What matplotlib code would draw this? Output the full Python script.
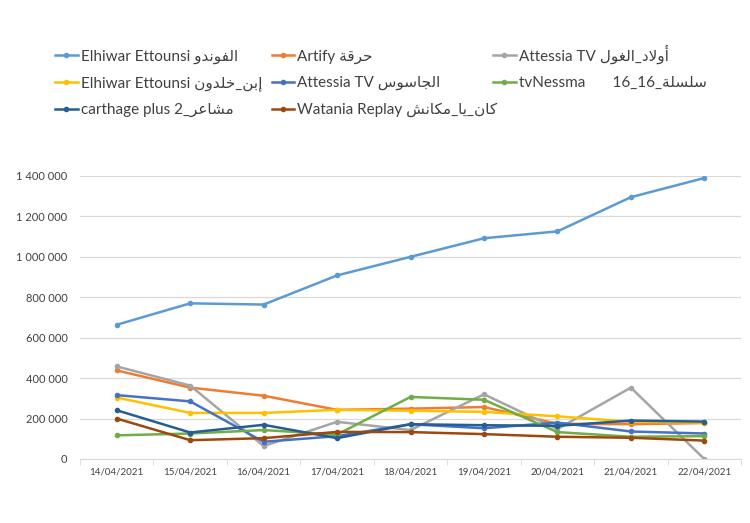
import re
import numpy as np
import matplotlib
matplotlib.use("Agg")
import matplotlib.pyplot as plt
from matplotlib.ticker import FuncFormatter

plt.rcParams['font.family'] = ['Lato', 'DejaVu Sans']

dates = ["14/04/2021", "15/04/2021", "16/04/2021", "17/04/2021", "18/04/2021",
         "19/04/2021", "20/04/2021", "21/04/2021", "22/04/2021"]

# (latin part, arabic part)
names = [
    ("Elhiwar Ettounsi ", "الفوندو"),
    ("Artify ", "حرقة"),
    ("Attessia TV ", "أولاد_الغول"),
    ("Elhiwar Ettounsi ", "إبن_خلدون"),
    ("Attessia TV ", "الجاسوس"),
    ("tvNessma       ", "سلسلة_16_16"),
    ("carthage plus ", "مشاعر_2"),
    ("Watania Replay ", "كان_يا_مكانش"),
]

fondou = [664000, 770000, 764000, 908000, 1000000, 1092000, 1126000, 1295000, 1390000]
harga = [438000, 353000, 313000, 243000, 249000, 257000, 174000, 172000, 178000]
ouled_ghoul = [458000, 363000, 64000, 184000, 143000, 320000, 148000, 353000, 0]
ibn_khaldoun = [304000, 228000, 228000, 243000, 239000, 233000, 211000, 184000, 180000]
jasous = [316000, 285000, 85000, 113000, 172000, 152000, 180000, 136000, 126000]
silsila = [117000, 126000, 143000, 121000, 307000, 293000, 133000, 110000, 113000]
machaer = [241000, 131000, 169000, 103000, 172000, 167000, 164000, 190000, 185000]
kan_ya = [200000, 93000, 103000, 134000, 133000, 123000, 110000, 105000, 91000]

series = [fondou, harga, ouled_ghoul, ibn_khaldoun, jasous, silsila, machaer, kan_ya]
colors = ["#5B9BD5", "#ED7D31", "#A5A5A5", "#FFC000", "#4472C4", "#70AD47", "#255E91", "#9E480E"]

# presentation forms: isolated, final, initial, medial
FORMS = {
    'ا': ('\ufe8d', '\ufe8e', None, None),
    'أ': ('\ufe83', '\ufe84', None, None),
    'إ': ('\ufe87', '\ufe88', None, None),
    'ب': ('\ufe8f', '\ufe90', '\ufe91', '\ufe92'),
    'ة': ('\ufe93', '\ufe94', None, None),
    'ج': ('\ufe9d', '\ufe9e', '\ufe9f', '\ufea0'),
    'ح': ('\ufea1', '\ufea2', '\ufea3', '\ufea4'),
    'خ': ('\ufea5', '\ufea6', '\ufea7', '\ufea8'),
    'د': ('\ufea9', '\ufeaa', None, None),
    'ر': ('\ufead', '\ufeae', None, None),
    'س': ('\ufeb1', '\ufeb2', '\ufeb3', '\ufeb4'),
    'ش': ('\ufeb5', '\ufeb6', '\ufeb7', '\ufeb8'),
    'ع': ('\ufec9', '\ufeca', '\ufecb', '\ufecc'),
    'غ': ('\ufecd', '\ufece', '\ufecf', '\ufed0'),
    'ف': ('\ufed1', '\ufed2', '\ufed3', '\ufed4'),
    'ق': ('\ufed5', '\ufed6', '\ufed7', '\ufed8'),
    'ك': ('\ufed9', '\ufeda', '\ufedb', '\ufedc'),
    'ل': ('\ufedd', '\ufede', '\ufedf', '\ufee0'),
    'م': ('\ufee1', '\ufee2', '\ufee3', '\ufee4'),
    'ن': ('\ufee5', '\ufee6', '\ufee7', '\ufee8'),
    'و': ('\ufeed', '\ufeee', None, None),
    'ي': ('\ufef1', '\ufef2', '\ufef3', '\ufef4'),
}
LAM_ALEF = {'ا': ('\ufefb', '\ufefc'), 'أ': ('\ufef7', '\ufef8'), 'إ': ('\ufef9', '\ufefa')}


def rtl(text):
    """ shape arabic letters and put them in visual order """
    out = []
    n = len(text)
    i = 0
    while i < n:
        c = text[i]
        prev = text[i - 1] if i > 0 else None
        prev_joins = prev in FORMS and FORMS[prev][2] is not None
        if c == 'ل' and i + 1 < n and text[i + 1] in LAM_ALEF:
            iso, fin = LAM_ALEF[text[i + 1]]
            out.append(fin if prev_joins else iso)
            i += 2
            continue
        if c not in FORMS:
            out.append(c)
            i += 1
            continue
        iso, fin, ini, med = FORMS[c]
        nxt = text[i + 1] if i + 1 < n else None
        next_joins = nxt in FORMS and ini is not None
        if prev_joins and next_joins:
            out.append(med)
        elif prev_joins:
            out.append(fin)
        elif next_joins:
            out.append(ini)
        else:
            out.append(iso)
        i += 1
    s = ''.join(reversed(out))
    return re.sub(r'\d+', lambda m: m.group()[::-1], s)


labels = [lat + rtl(ar) for lat, ar in names]

fig = plt.figure(figsize=(7.5, 5.23), dpi=100)
ax = fig.add_axes([0.1067, 0.1224, 0.8813, 0.5411])

x = np.arange(len(dates))
handles = []
for vals, col, lab in zip(series, colors, labels):
    h, = ax.plot(x, vals, color=col, lw=1.8, marker='o', ms=3.0, label=lab,
                 solid_joinstyle='round')
    handles.append(h)

ax.set_xlim(-0.5, len(dates) - 0.5)
ax.set_ylim(0, 1400000)
ax.set_yticks(np.arange(0, 1400001, 200000))
ax.yaxis.set_major_formatter(FuncFormatter(lambda v, p: "{:,}".format(int(v)).replace(",", " ")))
ax.set_xticks(x)
ax.set_xticklabels(dates)
ax.set_xticks(np.arange(-0.5, len(dates), 1), minor=True)
ax.tick_params(axis='x', which='major', length=0, labelsize=7, colors='#404040', pad=6)
ax.tick_params(axis='x', which='minor', length=4, color='#D9D9D9')
ax.tick_params(axis='y', length=0, labelsize=8, colors='#404040', pad=9)
ax.grid(axis='y', color='#D9D9D9', lw=0.9)
ax.set_axisbelow(True)
for s in ['top', 'right', 'left']:
    ax.spines[s].set_visible(False)
ax.spines['bottom'].set_color('#D9D9D9')

# legend as three columns, filled row by row like Excel
col_x = [0.073, 0.362, 0.657]
col_y = [0.905, 0.905, 0.915]
for c in range(3):
    idx = list(range(c, len(series), 3))
    fig.legend([handles[i] for i in idx], [labels[i] for i in idx],
               loc='upper left', bbox_to_anchor=(col_x[c], col_y[c]), frameon=False,
               fontsize=11, handlelength=1.5, handletextpad=0.2,
               labelspacing=0.8, borderpad=0, borderaxespad=0, labelcolor='#404040')

fig.savefig("out.png", dpi=100)
